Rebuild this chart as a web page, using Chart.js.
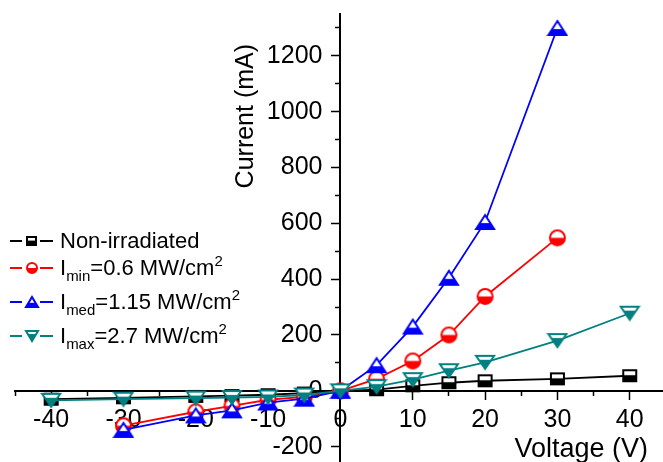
<!DOCTYPE html>
<html>
<head>
<meta charset="utf-8">
<script src="https://cdn.jsdelivr.net/npm/chart.js@4/dist/chart.umd.min.js"></script>
<style>
  html, body { margin: 0; padding: 0; background: #fff; }
  #wrap { position: relative; width: 663px; height: 462px; overflow: hidden; }
  #legend { position: absolute; left: 0; top: 0; font-family: 'Liberation Sans', Arial, sans-serif; font-size: 22px; color: #000; }
  .row { position: absolute; left: 8px; display: flex; align-items: center; height: 22px; line-height: 22px; white-space: nowrap; }
  .row canvas { display: block; }
  .row span { margin-left: 4px; }
  .row sub, .row sup { font-size: 15px; line-height: 0; vertical-align: baseline; position: relative; }
  .row sub { top: 6px; }
  .row sup { top: -9px; }
</style>
</head>
<body>
<div id="wrap">
  <canvas id="chart"></canvas>
  <div id="legend"></div>
</div>
<script>
// data (voltage in V, current in mA)
const voltsFull = [-40, -30, -20, -15, -10, -5, 0, 5, 10, 15, 20, 30, 40];
const voltsMid = [-30, -20, -15, -10, -5, 0, 5, 10, 15, 20, 30];

const nonIrradiated = [-30, -25, -20, -17, -14, -8, 0, 4, 18, 29, 36, 43, 54];
const iMin = [-125, -75, -54, -32, -22, 0, 43, 107, 200, 338, 548];
const iMed = [-140, -88, -70, -42, -28, 0, 92, 230, 405, 605, 1300];
const iMax = [-34, -30, -26, -24, -22, -15, 0, 15, 40, 72, 102, 180, 278];

const seriesLabels = ['Non-irradiated', 'Imin=0.6 MW/cm2', 'Imed=1.15 MW/cm2', 'Imax=2.7 MW/cm2'];
const legendHtml = [
  'Non-irradiated',
  'I<sub>min</sub>=0.6 MW/cm<sup>2</sup>',
  'I<sub>med</sub>=1.15 MW/cm<sup>2</sup>',
  'I<sub>max</sub>=2.7 MW/cm<sup>2</sup>'
];
const seriesColors = ['#000000', '#ff0000', '#0000ff', '#008080'];

const xMajorTicks = [-40, -30, -20, -10, 0, 10, 20, 30, 40];
const xMinorTicks = [-45, -35, -25, -15, -5, 5, 15, 25, 35];
const yMajorTicks = [-200, 0, 200, 400, 600, 800, 1000, 1200];
const yMinorTicks = [-100, 100, 300, 500, 700, 900, 1100, 1300];

const FONT = "'Liberation Sans', Arial, Helvetica, sans-serif";
Chart.defaults.font.family = FONT;
Chart.defaults.color = '#000';

// linear scale crossing at a value; pushes the y labels off the axis line
class CrossLinear extends Chart.LinearScale {
  _computeLabelItems(chartArea) {
    const items = super._computeLabelItems(chartArea);
    if (!this.isHorizontal()) {
      const shift = this.options.grid.tickLength + this.options.ticks.padding;
      items.forEach(it => { it.options.translation[0] -= shift; });
    }
    return items;
  }
}
CrossLinear.id = 'crossLinear';
CrossLinear.defaults = Chart.LinearScale.defaults;
Chart.register(CrossLinear);

// half filled symbols like the Origin ones
function makeMarker(shape, color, w, h) {
  const pad = 2;
  const c = document.createElement('canvas');
  c.width = w + pad * 2;
  c.height = h + pad * 2;
  const g = c.getContext('2d');
  g.translate(pad, pad);
  const p = new Path2D();
  let fillFrom = 0.5;
  if (shape === 'square') {
    p.rect(0, 0, w, h);
    fillFrom = 0.45;
  } else if (shape === 'circle') {
    p.ellipse(w / 2, h / 2, w / 2, h / 2, 0, 0, Math.PI * 2);
  } else if (shape === 'up') {
    p.moveTo(w / 2, 0); p.lineTo(w, h); p.lineTo(0, h); p.closePath();
    fillFrom = 0.58;
  } else {
    p.moveTo(0, 0); p.lineTo(w, 0); p.lineTo(w / 2, h); p.closePath();
    fillFrom = 0.3;
  }
  g.fillStyle = '#fff';
  g.fill(p);
  g.save();
  g.clip(p);
  g.fillStyle = color;
  g.fillRect(0, h * fillFrom, w, h * (1 - fillFrom) + 1);
  g.restore();
  g.lineWidth = 2;
  g.lineJoin = 'miter';
  g.strokeStyle = color;
  g.stroke(p);
  return c;
}

const shapes = ['square', 'circle', 'up', 'down'];
const chartSizes = [[13, 11], [15, 15], [18, 14], [18, 13]];
const legendSizes = [[9, 8], [10, 10], [12, 10], [12, 10]];

const markers = shapes.map((s, i) => makeMarker(s, seriesColors[i], chartSizes[i][0], chartSizes[i][1]));

function toPoints(xs, ys) {
  return xs.map((x, i) => ({ x: x, y: ys[i] }));
}

const noPad = s => { s.paddingLeft = 0; s.paddingRight = 0; s.paddingTop = 0; s.paddingBottom = 0; };

const axisTitles = {
  id: 'axisTitles',
  afterDraw(chart) {
    const ctx = chart.ctx;
    const area = chart.chartArea;
    ctx.save();
    ctx.fillStyle = '#000';
    ctx.font = '25px ' + FONT;
    ctx.textAlign = 'center';
    ctx.textBaseline = 'alphabetic';
    ctx.translate(253, chart.scales.y.getPixelForValue(984));
    ctx.rotate(-Math.PI / 2);
    ctx.fillText('Current (mA)', 0, 0);
    ctx.restore();

    ctx.save();
    ctx.fillStyle = '#000';
    ctx.font = '27px ' + FONT;
    ctx.textAlign = 'right';
    ctx.textBaseline = 'alphabetic';
    ctx.fillText('Voltage (V)', area.right - 15, 457);
    ctx.restore();
  }
};

const datasets = [
  { data: toPoints(voltsFull, nonIrradiated), order: 3 },
  { data: toPoints(voltsMid, iMin), order: 2 },
  { data: toPoints(voltsMid, iMed), order: 1 },
  { data: toPoints(voltsFull, iMax), order: 0 }
].map((d, i) => Object.assign(d, {
  label: seriesLabels[i],
  borderColor: seriesColors[i],
  backgroundColor: seriesColors[i],
  borderWidth: 1.8,
  pointStyle: markers[i],
  pointRadius: 7,
  tension: 0,
  fill: false
}));

const tickFont = { size: 25 };

new Chart(document.getElementById('chart'), {
  type: 'line',
  data: { datasets },
  options: {
    responsive: true,
    maintainAspectRatio: false,
    animation: false,
    layout: { autoPadding: false, padding: { left: 15, right: 0, top: 14, bottom: 0 } },
    scales: {
      x: {
        type: 'crossLinear',
        position: { y: 0 },
        min: -45,
        max: 44.6,
        afterBuildTicks: s => { s.ticks = xMajorTicks.map(v => ({ value: v })); },
        afterFit: noPad,
        ticks: { font: tickFont, color: '#000', padding: 6, maxRotation: 0, autoSkip: false, callback: v => String(v) },
        grid: { drawOnChartArea: false, color: '#000', tickLength: 8, tickWidth: 1.5 },
        border: { color: '#000', width: 2 }
      },
      xMinor: {
        type: 'crossLinear',
        position: { y: 0 },
        min: -45,
        max: 44.6,
        afterBuildTicks: s => { s.ticks = xMinorTicks.map(v => ({ value: v })); },
        afterFit: noPad,
        ticks: { display: false },
        grid: { drawOnChartArea: false, color: '#000', tickLength: 5, tickWidth: 1.5 },
        border: { display: false }
      },
      y: {
        type: 'crossLinear',
        position: { x: 0 },
        min: -255,
        max: 1350,
        afterBuildTicks: s => { s.ticks = yMajorTicks.map(v => ({ value: v })); },
        afterFit: noPad,
        ticks: { font: tickFont, color: '#000', padding: 10, autoSkip: false, callback: v => String(v) },
        grid: { drawOnChartArea: false, color: '#000', tickLength: 8, tickWidth: 1.5 },
        border: { color: '#000', width: 2 }
      },
      yMinor: {
        type: 'crossLinear',
        position: { x: 0 },
        min: -255,
        max: 1350,
        afterBuildTicks: s => { s.ticks = yMinorTicks.map(v => ({ value: v })); },
        afterFit: noPad,
        ticks: { display: false },
        grid: { drawOnChartArea: false, color: '#000', tickLength: 5, tickWidth: 1.5 },
        border: { display: false }
      }
    },
    plugins: {
      legend: { display: false },
      tooltip: { enabled: false }
    }
  },
  plugins: [axisTitles]
});

// legend drawn as html so sub/superscripts stay real text
const legendRowCenters = [241, 268, 302, 336];
const legend = document.getElementById('legend');
seriesLabels.forEach((label, i) => {
  const row = document.createElement('div');
  row.className = 'row';
  row.style.top = (legendRowCenters[i] - 11) + 'px';
  const sym = document.createElement('canvas');
  sym.width = 48;
  sym.height = 22;
  const g = sym.getContext('2d');
  g.strokeStyle = seriesColors[i];
  g.lineWidth = 1.8;
  g.beginPath();
  g.moveTo(2, 11); g.lineTo(14, 11);
  g.moveTo(32, 11); g.lineTo(45, 11);
  g.stroke();
  const m = makeMarker(shapes[i], seriesColors[i], legendSizes[i][0], legendSizes[i][1]);
  g.drawImage(m, Math.round(23.5 - m.width / 2), Math.round(11 - m.height / 2));
  const txt = document.createElement('span');
  txt.innerHTML = legendHtml[i];
  row.appendChild(sym);
  row.appendChild(txt);
  legend.appendChild(row);
});
</script>
</body>
</html>
